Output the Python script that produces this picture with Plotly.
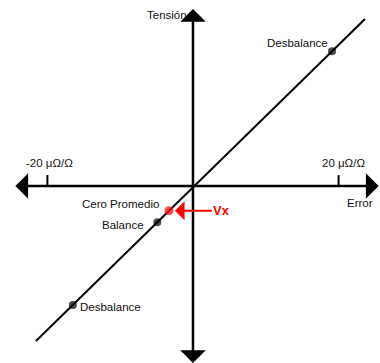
import plotly.graph_objects as go

# Error axis (μΩ/Ω) ticks and labels
tick_values = [-20, 20]
tick_labels = ["-20 μΩ/Ω", "20 μΩ/Ω"]
tick_height = 1.5

# Axis arrow end points (arrowheads extend past these)
x_axis_ends = [-24.6, 25.5]
y_axis_ends = [-24.5, 24.3]

# Bridge response line (Tensión vs Error)
line_x = [-21.57, 23.63]
line_y = [-21.29, 22.94]

# Labelled operating points on the line
point_names = ["Desbalance", "Cero Promedio", "Balance", "Desbalance"]
point_x = [19.1, -3.3, -4.9, -16.5]
point_y = [18.5, -3.4, -4.97, -16.33]
point_colors = ["black", "red", "black", "black"]
point_sizes = [8, 9, 8, 8]

FONT = "Liberation Sans, Arial, sans-serif"
TXT = dict(family=FONT, size=11.5, color="#111111")

fig = go.Figure()

# response line
fig.add_trace(go.Scatter(x=line_x, y=line_y, mode="lines",
                         line=dict(color="black", width=2), hoverinfo="skip"))

# tick marks on the horizontal axis
for t in tick_values:
    fig.add_trace(go.Scatter(x=[t, t], y=[0, tick_height], mode="lines",
                             line=dict(color="black", width=2), hoverinfo="skip"))

# operating points
fig.add_trace(go.Scatter(x=point_x, y=point_y, mode="markers",
                         marker=dict(color=point_colors, size=point_sizes, line=dict(width=0)),
                         hoverinfo="skip"))

annotations = []

# axes drawn as double-headed arrows
axis_arrow = dict(showarrow=True, text="", axref="x", ayref="y", xref="x", yref="y",
                  arrowhead=1, startarrowhead=1, arrowside="end+start",
                  arrowwidth=2.5, arrowsize=1.7, startarrowsize=1.7, arrowcolor="black")
annotations.append(dict(x=x_axis_ends[1], y=0, ax=x_axis_ends[0], ay=0, **axis_arrow))
annotations.append(dict(x=0, y=y_axis_ends[1], ax=0, ay=y_axis_ends[0], **axis_arrow))

# axis titles
annotations.append(dict(x=0, y=23.49, text="Tensión", showarrow=False,
                        xanchor="right", yanchor="middle", xshift=-4, font=TXT))
annotations.append(dict(x=22.94, y=-2.34, text="Error", showarrow=False,
                        xanchor="center", yanchor="middle", font=TXT))

# tick labels
for t, lab, sh in zip(tick_values, tick_labels, [2, 5]):
    annotations.append(dict(x=t, y=3.16, text=lab, showarrow=False,
                            xanchor="center", yanchor="middle", xshift=sh, font=TXT))

# point labels
label_pos = [
    dict(xanchor="right", xshift=-2, yshift=8),
    dict(xanchor="right", xshift=-8, yshift=7),
    dict(xanchor="right", xshift=-11, yshift=-3),
    dict(xanchor="left", xshift=5, yshift=-2),
]
for name, x, y, pos in zip(point_names, point_x, point_y, label_pos):
    annotations.append(dict(x=x, y=y, text=name, showarrow=False,
                            yanchor="middle", font=TXT, **pos))

# Vx marker arrow pointing at the average-zero point
annotations.append(dict(x=point_x[1], y=point_y[1], text="<b>Vx</b>", showarrow=True,
                        ax=53, ay=0, arrowhead=1, arrowwidth=2, arrowsize=1.6,
                        arrowcolor="red", standoff=6,
                        font=dict(family=FONT, size=13, color="red")))

fig.update_layout(
    width=380, height=363,
    margin=dict(l=0, r=0, t=0, b=0),
    paper_bgcolor="white", plot_bgcolor="white",
    showlegend=False,
    xaxis=dict(visible=False, range=[-26.51, 25.69], fixedrange=True),
    yaxis=dict(visible=False, range=[-24.31, 25.55], fixedrange=True),
    annotations=annotations,
)

fig.write_html("out.html")
